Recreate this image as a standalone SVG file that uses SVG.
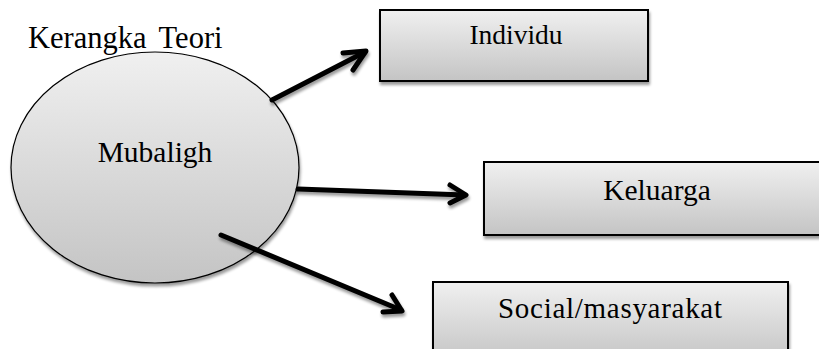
<svg xmlns="http://www.w3.org/2000/svg" width="819" height="349" viewBox="0 0 819 349">
<style>
text{font-family:'Liberation Serif','DejaVu Serif',serif;fill:#000}
.box{fill:url(#g);stroke:#000;stroke-width:2}
.arr{fill:none;stroke:#000;stroke-width:5;stroke-linecap:round;stroke-linejoin:round}
</style>
<defs>
<linearGradient id="g" x1="0" y1="0" x2="0" y2="1">
<stop offset="0" stop-color="#f0f0f0"/>
<stop offset="1" stop-color="#c4c4c4"/>
</linearGradient>
<filter id="sh" x="-10%" y="-10%" width="130%" height="140%">
<feGaussianBlur in="SourceAlpha" stdDeviation="1.5"/>
<feOffset dx="1" dy="3" result="b"/>
<feComponentTransfer><feFuncA type="linear" slope="0.4"/></feComponentTransfer>
<feMerge><feMergeNode/><feMergeNode in="SourceGraphic"/></feMerge>
</filter>
</defs>
<rect width="819" height="349" fill="#fff"/>
<text x="28" y="48" font-size="30.5" word-spacing="5">Kerangka Teori</text>
<g id="mubaligh">
<ellipse cx="155" cy="167.5" rx="144" ry="115.5" fill="url(#g)" stroke="#000" stroke-width="1.2" filter="url(#sh)"/>
<text x="155" y="162" font-size="29.5" text-anchor="middle">Mubaligh</text>
</g>
<g id="individu">
<rect class="box" x="380" y="10" width="268" height="71" filter="url(#sh)"/>
<text x="516" y="44" font-size="27.5" text-anchor="middle">Individu</text>
</g>
<g id="keluarga">
<rect class="box" x="484" y="162" width="345" height="73" filter="url(#sh)"/>
<text x="657" y="200" font-size="29.5" text-anchor="middle">Keluarga</text>
</g>
<g id="social">
<rect class="box" x="433" y="282" width="355" height="80" filter="url(#sh)"/>
<text x="498" y="318" font-size="29" textLength="224" lengthAdjust="spacing">Social/masyarakat</text>
</g>
<g id="connectors" filter="url(#sh)">
<path class="arr" d="M272,100 L365,52"/>
<path class="arr" d="M343,53 L366,51 L353,70"/>
<path class="arr" d="M298,189 L465,195"/>
<path class="arr" d="M450,185 L466,195 L450,203"/>
<path class="arr" d="M221,235 L401,310"/>
<path class="arr" d="M392,295 L402,311 L383,312"/>
</g>
</svg>
